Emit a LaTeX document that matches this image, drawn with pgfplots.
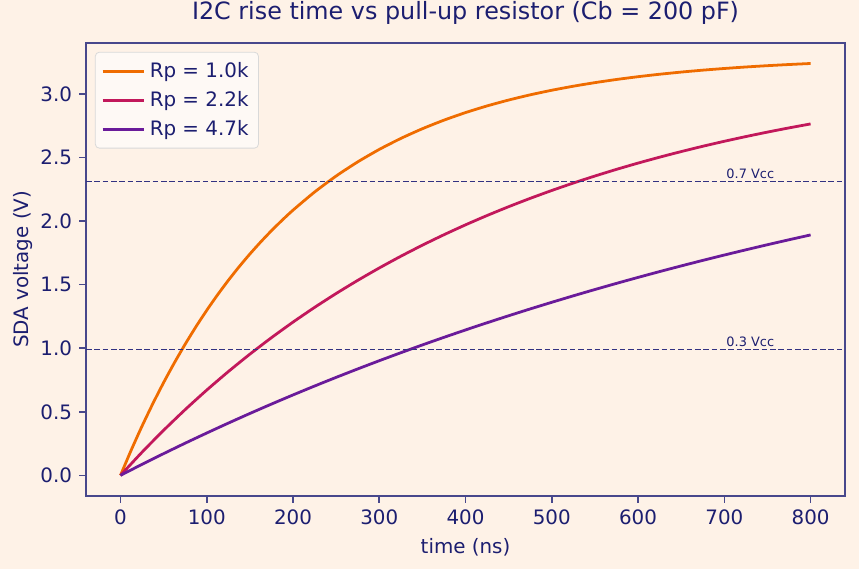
\documentclass[border=0pt]{standalone}
\usepackage{fontspec}
\setmainfont{DejaVu Sans}
\usepackage{pgfplots}
\pgfplotsset{compat=1.18}
\definecolor{bgc}{RGB}{254,242,231}
\definecolor{txt}{RGB}{28,30,112}
\definecolor{spn}{RGB}{72,72,140}
\definecolor{dsh}{RGB}{50,50,130}
\definecolor{cA}{RGB}{239,108,0}
\definecolor{cB}{RGB}{194,24,91}
\definecolor{cC}{RGB}{106,27,154}
\begin{document}
\begin{tikzpicture}
\path[use as bounding box, fill=bgc] (-43.3pt,-36.8pt) rectangle (389.2pt,249.7pt);
\begin{axis}[
  at={(0,0)}, anchor=south west,
  scale only axis, width=382.2pt, height=228.1pt,
  xmin=-40, xmax=840, ymin=-0.162, ymax=3.4016,
  xtick={0,100,...,800},
  ytick={0,0.5,1,1.5,2,2.5,3},
  yticklabel style={/pgf/number format/.cd, fixed, fixed zerofill, precision=1},
  /pgf/number format/assume math mode=true,
  tick align=outside, major tick length=3.5pt,
  tick style={spn, line width=0.8pt},
  xtick pos=bottom, ytick pos=left,
  axis line style={spn, line width=0.9pt},
  every tick label/.append style={font=\fontsize{10}{12}\selectfont, text=txt},
  title={I2C rise time vs pull-up resistor (Cb = 200 pF)},
  title style={font=\fontsize{12}{14}\selectfont, text=txt, anchor=base, at={(0.5,1)}, yshift=5.6pt, inner sep=0pt},
  xlabel={time (ns)}, ylabel={SDA voltage (V)},
  label style={font=\fontsize{10}{12}\selectfont, text=txt},
  ylabel style={xshift=0pt, yshift=-3pt},
  legend style={at={(0,1)}, anchor=north west, xshift=4.5pt, yshift=-4.5pt,
    fill=white, fill opacity=0.6, text opacity=1, draw=black!15, rounded corners=2pt,
    font=\fontsize{10}{12}\selectfont, text=txt, row sep=1.5pt, inner sep=3pt},
  legend cell align=left,
  legend image code/.code={\draw[#1] (0pt,0pt) -- (21pt,0pt);},
]
\addplot[cA, line width=1.4pt, smooth, tension=0.4] coordinates {
(0,0) (12.5,0.1999) (25,0.3878) (37.5,0.5642) (50,0.7300) (62.5,0.8857) (75,1.0319) (87.5,1.1694)
(100,1.2984) (112.5,1.4197) (125,1.5336) (137.5,1.6407) (150,1.7412) (162.5,1.8356) (175,1.9244) (187.5,2.0076)
(200,2.0860) (225,2.2286) (250,2.3545) (275,2.4656) (300,2.5637) (325,2.6502) (350,2.7265)
(375,2.7939) (400,2.8534) (425,2.9059) (450,2.9522) (475,2.9931) (500,3.0291) (525,3.0609)
(550,3.0890) (575,3.1138) (600,3.1357) (625,3.1550) (650,3.1720) (675,3.1871) (700,3.2003)
(725,3.2121) (750,3.2224) (775,3.2315) (800,3.2396)};
\addlegendentry{Rp = 1.0k}
\addplot[cB, line width=1.4pt, smooth, tension=0.4] coordinates {
(0,0) (25,0.1823) (50,0.3545) (75,0.5172) (100,0.6709) (125,0.8161) (150,0.9533) (175,1.0829)
(200,1.2054) (225,1.3211) (250,1.4304) (275,1.5336) (300,1.6312) (325,1.7234) (350,1.8105)
(375,1.8927) (400,1.9705) (425,2.0439) (450,2.1133) (475,2.1788) (500,2.2408) (525,2.2993)
(550,2.3545) (575,2.4068) (600,2.4561) (625,2.5027) (650,2.5467) (675,2.5884) (700,2.6277)
(725,2.6648) (750,2.6999) (775,2.7330) (800,2.7643)};
\addlegendentry{Rp = 2.2k}
\addplot[cC, line width=1.4pt, smooth, tension=0.4] coordinates {
(0,0) (25,0.0866) (50,0.1709) (75,0.2531) (100,0.3330) (125,0.4109) (150,0.4867) (175,0.5606)
(200,0.6325) (225,0.7025) (250,0.7707) (275,0.8370) (300,0.9017) (325,0.9646) (350,1.0259)
(375,1.0856) (400,1.1437) (425,1.2003) (450,1.2554) (475,1.3091) (500,1.3613) (525,1.4122)
(550,1.4618) (575,1.5100) (600,1.5570) (625,1.6028) (650,1.6473) (675,1.6907) (700,1.7329)
(725,1.7740) (750,1.8141) (775,1.8531) (800,1.8911)};
\addlegendentry{Rp = 4.7k}
\addplot[dsh, line width=0.6pt, dash pattern=on 2.8pt off 1.4pt, forget plot] coordinates {(-40,2.31) (840,2.31)};
\addplot[dsh, line width=0.6pt, dash pattern=on 2.8pt off 1.4pt, forget plot] coordinates {(-40,0.99) (840,0.99)};
\node[anchor=base west, inner sep=0pt, text=txt, font=\fontsize{6.5}{8}\selectfont] at (axis cs:702,2.335) {0.7 Vcc};
\node[anchor=base west, inner sep=0pt, text=txt, font=\fontsize{6.5}{8}\selectfont] at (axis cs:702,1.015) {0.3 Vcc};
\end{axis}
\end{tikzpicture}
\end{document}
